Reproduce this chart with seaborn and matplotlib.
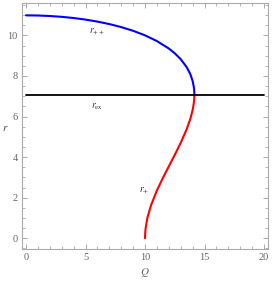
import numpy as np
import pandas as pd
import matplotlib
matplotlib.use("Agg")
import matplotlib.pyplot as plt
import seaborn as sns
from matplotlib.ticker import MultipleLocator

# === values ===
# upper branch r_++ (blue): Q -> r
q_pp = [0, 1, 2, 3, 4, 5, 6, 7, 8, 9, 10, 11, 12, 12.5, 13, 13.5, 13.8, 14, 14.1, 14.13, 14.14, 14.142]
r_pp = [10.987, 10.979, 10.954, 10.913, 10.855, 10.777, 10.679, 10.557, 10.407, 10.225, 10.0,
        9.718, 9.350, 9.114, 8.823, 8.430, 8.091, 7.746, 7.447, 7.275, 7.157, 7.071]

# lower branch r_+ (red): Q -> r
q_p = [10.0, 10.0125, 10.05, 10.2, 10.5, 11, 11.5, 12, 12.5, 13, 13.5, 13.8, 14, 14.1, 14.13, 14.14, 14.142]
r_p = [0.0, 0.25, 0.501, 1.010, 1.622, 2.358, 2.974, 3.547, 4.114, 4.708, 5.379, 5.877,
       6.325, 6.675, 6.861, 6.984, 7.071]

# extremal radius r_ex (black, horizontal)
q_ex = [0, 20]
r_ex = [7.071, 7.071]

df_pp = pd.DataFrame({"Q": q_pp, "r": r_pp})
df_p = pd.DataFrame({"Q": q_p, "r": r_p})
df_ex = pd.DataFrame({"Q": q_ex, "r": r_ex})

sns.set_style("ticks")
plt.rcParams["font.family"] = ["Liberation Serif", "DejaVu Serif"]
plt.rcParams["mathtext.fontset"] = "stix"

fig = plt.figure(figsize=(2.73, 2.82), dpi=100)
ax = fig.add_axes([0.0795, 0.117, 0.901, 0.872])

sns.lineplot(data=df_pp, x="Q", y="r", sort=False, estimator=None, color="#0000ff", lw=1.5, ax=ax)
sns.lineplot(data=df_p, x="Q", y="r", sort=False, estimator=None, color="#ff0000", lw=1.5, ax=ax)
sns.lineplot(data=df_ex, x="Q", y="r", sort=False, estimator=None, color="black", lw=1.3, ax=ax)

ax.text(5.95, 10.15, r"$r_{++}$", fontsize=7, ha="center", va="center", color="#333333")
ax.text(5.95, 6.5, r"$r_{\rm ex}$", fontsize=7, ha="center", va="center", color="#333333")
ax.text(9.9, 2.33, r"$r_{+}$", fontsize=7, ha="center", va="center", color="#333333")

ax.set_xlim(-0.36, 20.3)
ax.set_ylim(-0.53, 11.59)
ax.xaxis.set_major_locator(MultipleLocator(5))
ax.xaxis.set_minor_locator(MultipleLocator(1))
ax.yaxis.set_major_locator(MultipleLocator(2))
ax.yaxis.set_minor_locator(MultipleLocator(0.5))

for s in ax.spines.values():
    s.set_color("#aaaaaa")
    s.set_linewidth(0.8)
ax.tick_params(which="both", direction="in", top=True, right=True, color="#aaaaaa",
               labelcolor="#666666", labelsize=7.5, pad=3)
ax.tick_params(which="major", length=3.5, width=0.7)
ax.tick_params(which="minor", length=2, width=0.6)

ax.set_xlabel(r"$Q$", fontsize=8, color="#666666", labelpad=3)
ax.set_ylabel(r"$r$", fontsize=8, color="#444444", rotation=0, va="center", ha="center")
ax.yaxis.set_label_coords(-0.068, 0.49)

fig.savefig("out.png", dpi=100)
